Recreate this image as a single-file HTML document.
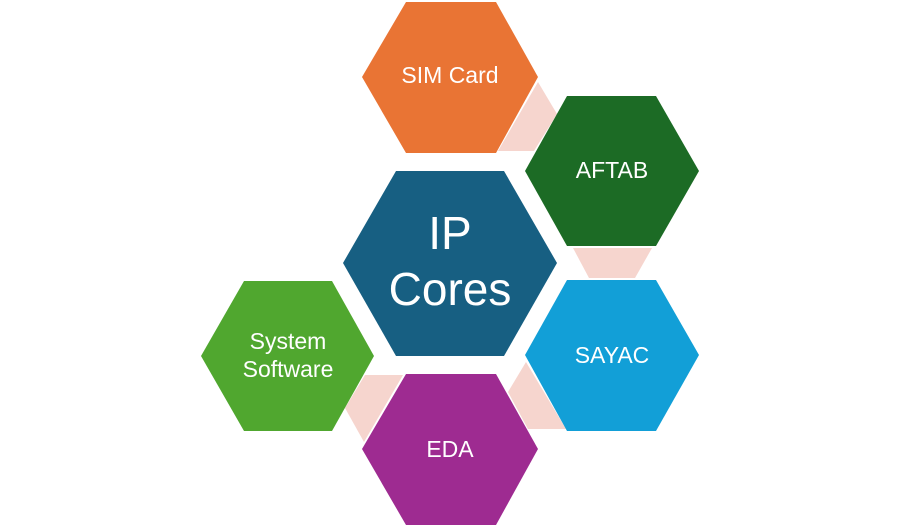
<!DOCTYPE html>
<html><head><meta charset="utf-8"><style>
html,body{margin:0;padding:0;background:#fff;}
svg{display:block;}
text{font-family:"Liberation Sans",sans-serif;fill:#fff;text-anchor:middle;dominant-baseline:central;}
</style></head><body>
<svg width="900" height="527" viewBox="0 0 900 527">
<g fill="#f6d5ce">
<polygon points="538,82 557,114 534,151 498,151"/>
<polygon points="573,248 652,248 635,278 589,278"/>
<polygon points="526,362 566,429 528,429 508,392"/>
<polygon points="365,375 403,375 364,442 345,408"/>
</g>
<polygon fill="#e97434" points="406,2 496,2 538,77 496,153 406,153 362,77"/>
<polygon fill="#1c6b25" points="567,96 656,96 699,171 656,246 567,246 525,171"/>
<polygon fill="#175f82" points="396,171 504,171 557,263 504,356 396,356 343,263"/>
<polygon fill="#129fd7" points="567,280 656,280 699,355 656,431 567,431 525,355"/>
<polygon fill="#9e2b91" points="406,374 496,374 538,449 496,525 406,525 362,449"/>
<polygon fill="#50a72f" points="244,281 332,281 374,356 332,431 244,431 201,356"/>
<text x="450" y="75" font-size="23">SIM Card</text>
<text x="612" y="170" font-size="23">AFTAB</text>
<text x="612" y="355" font-size="23">SAYAC</text>
<text x="450" y="449" font-size="23">EDA</text>
<text x="288" y="341" font-size="23">System</text>
<text x="288" y="369" font-size="23">Software</text>
<text x="450" y="233" font-size="46">IP</text>
<text x="450" y="289" font-size="46">Cores</text>
</svg>
</body></html>
